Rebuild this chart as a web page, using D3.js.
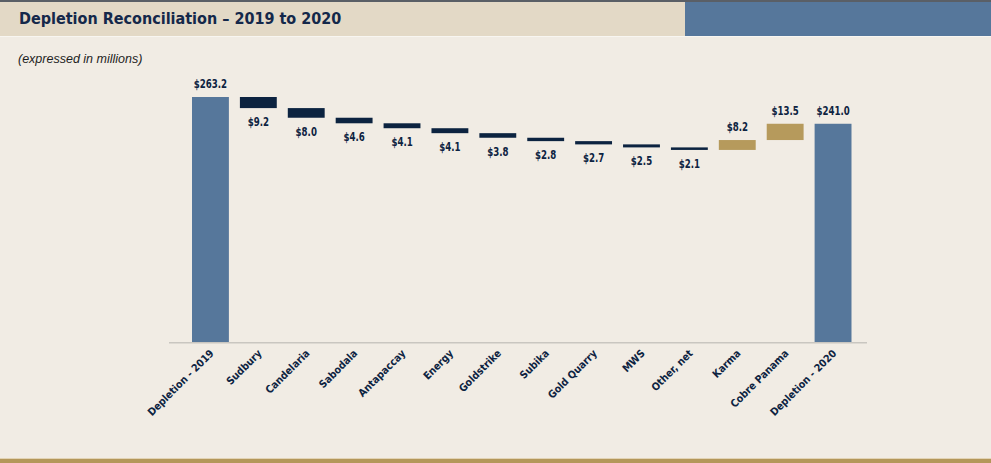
<!DOCTYPE html>
<html>
<head>
<meta charset="utf-8">
<script src="https://cdn.jsdelivr.net/npm/d3@7"></script>
<style>
  html, body { margin: 0; padding: 0; background: #f1ece4; }
  svg { display: block; }
</style>
</head>
<body>
<main></main>
<script>
const categories = ['Depletion - 2019', 'Sudbury', 'Candelaria', 'Sabodala', 'Antapaccay', 'Energy',
  'Goldstrike', 'Subika', 'Gold Quarry', 'MWS', 'Other, net', 'Karma', 'Cobre Panama', 'Depletion - 2020'];
const changes = [263.2, -9.2, -8.0, -4.6, -4.1, -4.1, -3.8, -2.8, -2.7, -2.5, -2.1, 8.2, 13.5, 241.0];
const kinds = ['total', 'down', 'down', 'down', 'down', 'down', 'down', 'down', 'down', 'down', 'down', 'up', 'up', 'total'];
const valueLabels = ['$263.2', '$9.2', '$8.0', '$4.6', '$4.1', '$4.1', '$3.8', '$2.8', '$2.7', '$2.5', '$2.1', '$8.2', '$13.5', '$241.0'];

const width = 991;
const height = 463;
const navy = '#0d2341';
const colors = { total: '#56779b', down: '#0c2340', up: '#b69a5c' };
const condensed = "'DejaVu Sans Condensed', 'Liberation Sans Narrow', 'Arial Narrow', sans-serif";

// running totals -> [start, end] for each step
let running = 0;
const steps = categories.map((c, i) => {
  let y0, y1;
  if (kinds[i] === 'total') {
    y0 = 60; y1 = changes[i];
    running = changes[i];
  } else {
    y0 = running; y1 = running + changes[i];
    running = y1;
  }
  return { name: c, kind: kinds[i], label: valueLabels[i], lo: Math.min(y0, y1), hi: Math.max(y0, y1) };
});

const xScale = d3.scaleBand()
  .domain(categories)
  .range([186.5, 857])
  .paddingInner(0.23)
  .paddingOuter(0.115);

const yScale = d3.scaleLinear()
  .domain([60, 263.2])
  .range([342, 97]);

const svg = d3.select('main')
  .append('svg')
  .attr('width', width)
  .attr('height', height);

// background
svg.append('rect').attr('width', width).attr('height', height).attr('fill', '#f1ece4');

// header banner
svg.append('rect').attr('x', 0).attr('y', 0).attr('width', width).attr('height', 2).attr('fill', '#5a5f66');
svg.append('rect').attr('x', 0).attr('y', 2).attr('width', 685).attr('height', 34).attr('fill', '#e3d9c6');
svg.append('rect').attr('x', 685).attr('y', 2).attr('width', width - 685).attr('height', 34).attr('fill', '#56779b');
svg.append('rect').attr('x', 0).attr('y', 36).attr('width', width).attr('height', 1).attr('fill', '#f8f6f1');

svg.append('text')
  .text('Depletion Reconciliation \u2013 2019 to 2020')
  .attr('x', 19)
  .attr('y', 24)
  .style('font-family', condensed)
  .style('font-weight', 700)
  .style('font-size', '16px')
  .style('fill', '#14284a');

svg.append('text')
  .text('(expressed in millions)')
  .attr('x', 18)
  .attr('y', 63)
  .style('font-family', "'Liberation Sans', Arial, sans-serif")
  .style('font-style', 'italic')
  .style('font-size', '12.5px')
  .style('fill', '#1e1e1e');

// bottom gold strip
svg.append('rect').attr('x', 0).attr('y', 458).attr('width', width).attr('height', 1).attr('fill', '#e2d3b4');
svg.append('rect').attr('x', 0).attr('y', 459).attr('width', width).attr('height', 4).attr('fill', '#b4975a');

// baseline
svg.append('line')
  .attr('x1', 169).attr('x2', 867)
  .attr('y1', 342.7).attr('y2', 342.7)
  .style('stroke', '#c9c6c0')
  .style('stroke-width', 1.5);

// bars
svg.append('g')
  .selectAll('rect')
  .data(steps)
  .enter()
  .append('rect')
  .attr('x', d => xScale(d.name))
  .attr('y', d => yScale(d.hi))
  .attr('width', xScale.bandwidth())
  .attr('height', d => Math.max(2.5, yScale(d.lo) - yScale(d.hi)))
  .style('fill', d => colors[d.kind]);

// value labels (squeezed horizontally to mimic the narrow slide font)
svg.append('g')
  .selectAll('text')
  .data(steps)
  .enter()
  .append('text')
  .text(d => d.label)
  .attr('transform', d => {
    const x = xScale(d.name) + xScale.bandwidth() / 2;
    const y = d.kind === 'down'
      ? Math.max(yScale(d.lo), yScale(d.hi) + 2.5) + 18
      : yScale(d.hi) - 9;
    return `translate(${x}, ${y}) scale(0.8, 1)`;
  })
  .style('text-anchor', 'middle')
  .style('font-family', condensed)
  .style('font-weight', 700)
  .style('font-size', '12px')
  .style('fill', navy);

// category labels
svg.append('g')
  .selectAll('text')
  .data(categories)
  .enter()
  .append('text')
  .text(d => d)
  .attr('transform', d => `translate(${xScale(d) + xScale.bandwidth() / 2 + 4}, ${354}) rotate(-45)`)
  .style('text-anchor', 'end')
  .style('font-family', condensed)
  .style('font-weight', 700)
  .style('font-size', '10.5px')
  .style('fill', navy);
</script>
</body>
</html>
